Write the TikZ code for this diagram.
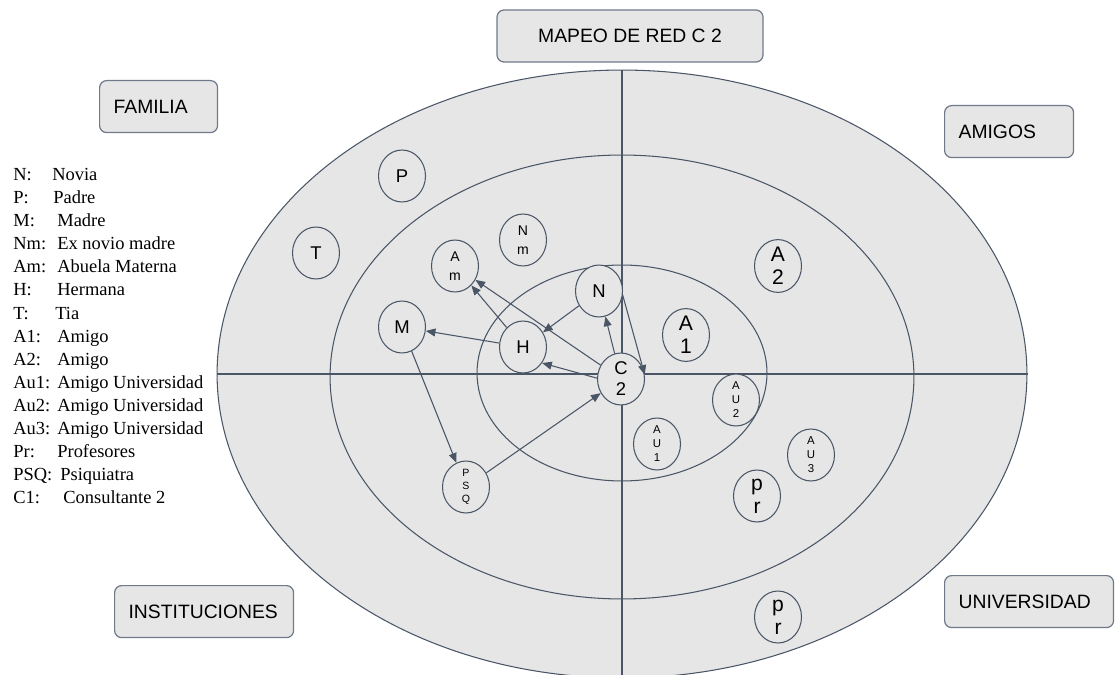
\documentclass[tikz,border=0pt]{standalone}
\usepackage{fontspec}
\setmainfont{Liberation Sans}
\newfontfamily\legendfont{Liberation Serif}
\usetikzlibrary{positioning}
\usetikzlibrary{shapes.geometric}
\usetikzlibrary{arrows.meta}
\definecolor{mapline}{RGB}{74,86,102}
\definecolor{mapfill}{RGB}{230,230,230}
\definecolor{boxline}{RGB}{112,122,138}

\begin{document}
\begin{tikzpicture}[x=0.02cm, y=-0.02cm,
	person/.style={ellipse, draw=mapline, fill=mapfill, line width=0.6pt,
		minimum width=0.94cm, minimum height=1.04cm, inner sep=0pt, align=center},
	txtbig/.style={font=\fontsize{12}{13}\selectfont},
	txtmid/.style={font=\fontsize{10.5}{12}\selectfont},
	txtsmall/.style={font=\fontsize{8}{10.5}\selectfont},
	txttiny/.style={font=\fontsize{6.5}{8}\selectfont},
	txtpsq/.style={font=\fontsize{6}{7.2}\selectfont},
	grpbox/.style={draw=boxline, fill=mapfill, line width=0.7pt, rounded corners=4pt,
		minimum height=1.04cm, inner xsep=0.28cm, inner ysep=0pt, anchor=north west,
		align=left, font=\fontsize{11}{12}\selectfont},
	legkey/.style={anchor=base west, inner sep=0pt, font=\legendfont\fontsize{10.5}{12}\selectfont},
	rel/.style={-{Triangle[length=5.5pt,width=4.5pt]}, draw=mapline, line width=0.6pt}]
\useasboundingbox (0,0) rectangle (1115,675);

% zonas
\begin{scope}
\clip (0,0) rectangle (1115,675);
\draw[mapline, fill=mapfill, line width=0.6pt] (622,374) ellipse [x radius=8.1cm, y radius=6.08cm];
\draw[mapline, fill=mapfill, line width=0.6pt] (622,377) ellipse [x radius=5.84cm, y radius=4.44cm];
\draw[mapline, fill=mapfill, line width=0.6pt] (622,373) ellipse [x radius=2.9cm, y radius=2.16cm];
\draw[mapline, line width=0.6pt] (622,70) -- (622,680);
\draw[mapline, line width=0.6pt] (217,374) -- (1028,374);
\end{scope}

% titulos
\node[grpbox, anchor=center, minimum width=5.32cm, align=center] (mapeo) at (630,36) {MAPEO DE RED C 2};
\node[grpbox, minimum width=2.36cm, text width=1.8cm] (familia) at (99,80) {FAMILIA};
\node[grpbox, minimum width=2.58cm, text width=2.02cm] (amigos) at (944,105) {AMIGOS};
\node[grpbox, minimum width=3.58cm, text width=3.02cm] (instit) at (114,585) {INSTITUCIONES};
\node[grpbox, minimum width=3.38cm, text width=2.82cm] (univ) at (944,575) {UNIVERSIDAD};

% personas
\node[person, txtmid] (P) at (402,176) {P};
\node[person, txtmid] (T) at (316,253) {T};
\node[person, txtsmall] (Nm) at (523,240) {N\\m};
\node[person, txtsmall] (Am) at (455,266) {A\\m};
\node[person, txtmid] (N) at (599,291) {N};
\node[person, txtmid] (M) at (402,327) {M};
\node[person, txtmid] (H) at (523,347) {H};
\node[person, txtbig] (A1) at (686,335) {A\\1};
\node[person, txtbig] (A2) at (778,266) {A\\2};
\node[person, txtmid] (C2) at (621,379) {C\\2};
\node[person, txttiny] (AU2) at (736,400) {A\\U\\2};
\node[person, txttiny] (AU1) at (657,444) {A\\U\\1};
\node[person, txttiny] (AU3) at (811,455) {A\\U\\3};
\node[person, txtbig] (pr) at (757,496) {p\\r};
\node[person, txtbig] (pr2) at (778,617) {p\\r};
\node[person, txtpsq] (PSQ) at (466,487) {P\\S\\Q};

% relaciones
\draw[rel] (H) -- (Am);
\draw[rel] (C2) -- (Am);
\draw[rel] (H) -- (M);
\draw[rel] (N) -- (H);
\draw[rel] (C2) -- (N);
\draw[rel] (N.-10) -- (C2.10);
\draw[rel] (C2.178) -- (H.-40);
\draw[rel] (M) -- (PSQ);
\draw[rel] (PSQ) -- (C2);

% leyenda
\foreach \k/\t/\dx [count=\i] in {N:/Novia/52, P:/Padre/53, M:/Madre/57,
	Nm:/Ex novio madre/57, Am:/Abuela Materna/57, H:/Hermana/57, T:/Tia/55,
	A1:/Amigo/57, A2:/Amigo/57, Au1:/Amigo Universidad/57,
	Au2:/Amigo Universidad/57, Au3:/Amigo Universidad/57, Pr:/Profesores/57,
	PSQ:/Psiquiatra/60, C1:/Consultante 2/63}{
	\node[legkey] (key\i) at (13,{158+23*\i}) {\k};
	\node[legkey] (leg\i) at (\dx,{158+23*\i}) {\t};
}
\end{tikzpicture}
\end{document}
